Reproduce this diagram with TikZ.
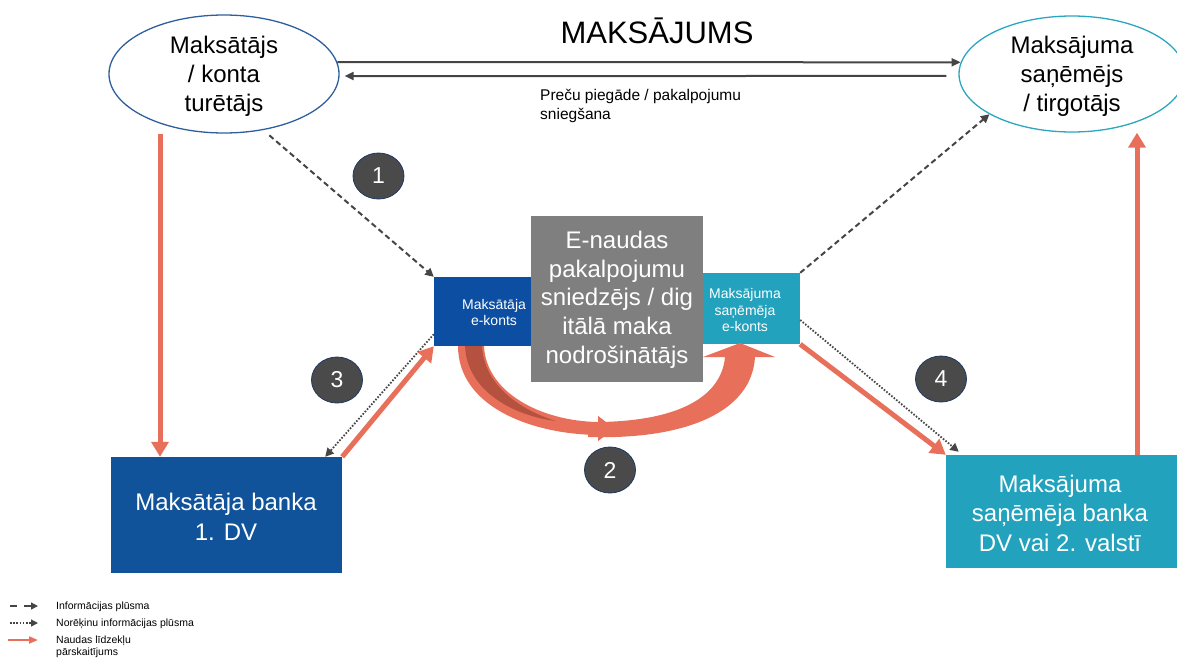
\documentclass[tikz,border=0pt]{standalone}
\usepackage{fontspec}
\setmainfont{Liberation Sans}
\usetikzlibrary{shapes.geometric,arrows.meta,calc}

\definecolor{payerblue}{HTML}{2E5E9E}
\definecolor{payeeteal}{HTML}{2AA6BF}
\definecolor{ekblue}{HTML}{0B4EA2}
\definecolor{emgray}{HTML}{7F7F7F}
\definecolor{tealbox}{HTML}{22A2BC}
\definecolor{bankblue}{HTML}{10539A}
\definecolor{moneyred}{HTML}{E8705A}
\definecolor{moneydark}{HTML}{B4513F}
\definecolor{flow}{HTML}{454545}
\definecolor{badgefill}{HTML}{4A4A4A}
\definecolor{badgeedge}{HTML}{1F3864}

\tikzset{
  party/.style={ellipse, line width=1.3pt, minimum width=230pt, minimum height=118pt, inner sep=0pt},
  partytext/.style={align=center, text=black, font=\fontsize{24}{29}\selectfont},
  box/.style={rectangle, inner sep=0pt, draw=none},
  boxtext/.style={align=center, text=white, font=\fontsize{24}{29.5}\selectfont},
  smalltext/.style={align=center, text=white, font=\fontsize{14}{16.5}\selectfont},
  badge/.style={ellipse, fill=badgefill, draw=badgeedge, line width=0.8pt, minimum width=51pt,
    minimum height=46pt, inner sep=0pt, text=white, font=\fontsize{23}{23}\selectfont},
  info/.style={draw=flow, line width=2pt, dash pattern=on 5.5pt off 3.5pt, -{Triangle[width=8.5pt,length=8.5pt]}},
  settle/.style={draw=flow, line width=1.8pt, dash pattern=on 1.6pt off 1.6pt, -{Triangle[width=8.5pt,length=8.5pt]}},
  moneyflow/.style={draw=moneyred, line width=5pt, -{Triangle[width=17pt,length=15pt]}},
  goods/.style={draw=flow, line width=2pt, -{Triangle[width=8pt,length=9pt]}},
  legendtext/.style={anchor=west, align=left, inner sep=0pt, text=black, font=\fontsize{10.5}{12}\selectfont},
}

\begin{document}
\begin{tikzpicture}[x=1pt,y=-1pt]
\useasboundingbox (0,0) rectangle (1177,657);

% parties
\node[party, draw=payerblue] (payer) at (224,74) {};
\node[partytext] (payerlbl) at (224,76) {Maksātājs\\/ konta\\turētājs};
\node[party, draw=payeeteal, minimum width=226pt, minimum height=116pt] (payee) at (1072,74) {};
\node[partytext] (payeelbl) at (1072,76) {Maksājuma\\saņēmējs\\/ tirgotājs};
\node[text=black, font=\fontsize{31}{31}\selectfont] (title) at (657,31) {MAKSĀJUMS};
\node[anchor=west, align=left, inner sep=0pt, text=black, font=\fontsize{15.5}{19}\selectfont] (goodslbl) at (540,106)
  {Preču piegāde / pakalpojumu\\sniegšana};

% accounts and banks
\node[box, fill=ekblue, minimum width=97pt, minimum height=69pt] (ekL) at (482.5,311.5) {};
\node[box, fill=emgray, minimum width=172pt, minimum height=166pt] (emi) at (617,299) {};
\node[box, fill=tealbox, minimum width=97pt, minimum height=71pt] (ekR) at (751.5,308.5) {};
\node[box, fill=bankblue, minimum width=231pt, minimum height=116pt] (bankL) at (226.5,515) {};
\node[box, fill=tealbox, minimum width=231pt, minimum height=113pt] (bankR) at (1061.5,511.5) {};

\node[smalltext] (ekLlbl) at (494,312.5) {Maksātāja\\e-konts};
\node[smalltext] (ekRlbl) at (745,310) {Maksājuma\\saņēmēja\\e-konts};
\node[boxtext, font=\fontsize{24}{28.7}\selectfont] (emilbl) at (617,299.5)
  {E-naudas\\pakalpojumu\\sniedzējs / dig\\itālā maka\\nodrošinātājs};
\node[boxtext] (bankLlbl) at (226,517) {Maksātāja banka\\1. DV};
\node[boxtext] (bankRlbl) at (1060,513) {Maksājuma\\saņēmēja banka\\DV vai 2. valstī};

% step badges
\node[badge] (b1) at (378.5,176) {1};
\node[badge] (b2) at (610,470) {2};
\node[badge] (b3) at (337,380) {3};
\node[badge] (b4) at (941,379) {4};

% payment and delivery between the parties
\draw[goods] (payer.6) -- (payee.174);
\draw[goods, shorten <=12pt, shorten >=5pt] (payee.181) -- (payer.359);

% money to and from the banks
\coordinate (lredfoot) at ([xshift=-66.5pt]bankL.north);
\coordinate (rredfoot) at ([xshift=75.5pt]bankR.north);
\draw[moneyflow] (payer.south -| lredfoot) -- (lredfoot);
\draw[moneyflow] (rredfoot) -- (payee.south -| rredfoot);

% information flows
\draw[info, shorten <=8pt] (payer.-55) -- (ekL.north west);
\draw[info] (ekR.north east) -- (payee.206);

% settlement information
\draw[settle] ([yshift=12pt]ekL.south west) -- ([xshift=-17pt]bankL.north east);
\draw[settle] ([yshift=-11.5pt]ekR.east) -- ([xshift=13pt,yshift=3pt]bankR.north west);

% transfers between banks and e-accounts
\draw[moneyflow] (bankL.north east) -- (ekL.south west);
\draw[moneyflow] (ekR.south east) -- (bankR.north west);

% curved transfer between the e-accounts
\fill[moneyred] (458,346) .. controls (458,405) and (528,434) .. (598,435)
  -- (598,441) -- (614,428.5) -- (598,416) -- (598,422)
  .. controls (540,421) and (486,392) .. (484,346) -- cycle;
\fill[moneydark] (465,346) .. controls (467,392) and (515,416) .. (556,421)
  .. controls (520,410) and (484,385) .. (482,346) -- cycle;
\fill[moneyred] (588,437) .. controls (690,440) and (752,410) .. (755,357)
  -- (775,357) -- (740,343) -- (703,357) -- (725,357)
  .. controls (721,400) and (672,423) .. (588,422) -- cycle;
\fill[moneyred] (598,441) -- (614,428.5) -- (598,416) -- cycle;

% legend
\coordinate (lg1s) at (10,606);  \coordinate (lg1e) at (38,606);
\coordinate (lg2s) at (10,623);  \coordinate (lg2e) at (38,623);
\coordinate (lg3s) at (8,640);   \coordinate (lg3e) at (38,640);
\draw[info, line width=1.3pt, dash pattern=on 7pt off 7pt, -{Triangle[width=7pt,length=7pt]}] (lg1s) -- (lg1e);
\draw[settle, line width=1.3pt, -{Triangle[width=7pt,length=7pt]}] (lg2s) -- (lg2e);
\draw[moneyflow, line width=2pt, -{Triangle[width=7pt,length=9pt]}] (lg3s) -- (lg3e);
\node[legendtext] (lg1t) at (56,607) {Informācijas plūsma};
\node[legendtext] (lg2t) at (56,624) {Norēķinu informācijas plūsma};
\node[legendtext] (lg3t) at (56,647) {Naudas līdzekļu\\pārskaitījums};
\end{tikzpicture}
\end{document}
